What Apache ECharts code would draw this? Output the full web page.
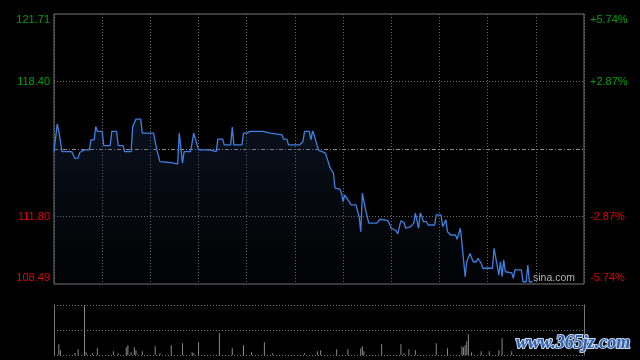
<!DOCTYPE html>
<html>
<head>
<meta charset="utf-8">
<script src="https://cdn.jsdelivr.net/npm/echarts@6/dist/echarts.min.js"></script>
<style>
html,body{margin:0;padding:0;background:#000;}
#c{width:640px;height:360px;}
</style>
</head>
<body>
<div id="c"></div>
<script>
// ---- data (HK session: 330 trading minutes) ----
const prevClose = 115.10;
const priceMin = 108.49;
const priceMax = 121.71;
const leftLabels = ['108.49', '111.80', '', '118.40', '121.71'];
const rightLabels = ['-5.74%', '-2.87%', '', '+2.87%', '+5.74%'];

const minutes = [0,2,3,4,5,11,13,15,16,19,22,23,25,26,27,30,31,35,36,39,40,43,44,48,49,51,54,55,62,64,65,66,72,77,78,79,80,81,85,87,88,90,97,98,101,102,105,106,110,111,112,117,118,120,122,130,131,135,136,142,143,145,146,153,155,156,159,160,161,162,163,164,165,167,169,170,172,173,174,175,178,179,180,181,182,183,184,185,188,189,190,191,192,193,194,195,196,201,202,203,204,208,210,211,213,214,216,218,219,220,222,224,225,226,227,228,229,230,232,233,237,238,241,242,243,244,245,247,250,251,252,253,254,256,257,258,259,260,261,263,264,265,266,267,273,274,275,277,278,279,280,281,282,285,286,287,291,292,294,295,296,298];
const prices = [114.97,116.33,115.96,115.96,114.97,114.97,114.65,114.65,114.93,115.06,115.06,115.55,115.55,116.20,115.96,115.96,115.27,115.27,115.96,115.96,115.27,115.27,114.97,114.97,116.20,116.56,116.56,115.88,115.88,115.06,114.97,114.48,114.44,114.37,115.88,115.88,114.41,114.97,114.97,115.88,115.79,115.06,115.06,114.97,114.97,115.58,115.58,115.30,115.30,116.17,115.30,115.30,115.88,115.88,115.96,115.96,115.88,115.88,115.79,115.79,115.58,115.58,115.30,115.30,115.47,115.96,115.96,115.55,115.99,115.79,115.79,115.22,115.02,114.97,114.90,114.86,114.16,114.16,113.92,113.18,113.13,112.94,112.52,112.85,112.85,112.61,112.61,112.36,112.36,112.28,111.79,111.05,112.94,112.94,112.12,112.03,111.47,111.47,111.54,111.66,111.59,111.59,111.22,111.22,111.10,110.94,111.59,111.49,111.22,111.30,111.30,111.47,111.96,111.96,111.22,111.96,111.80,111.54,111.54,111.38,111.38,111.87,111.87,111.30,111.30,111.63,111.05,110.89,110.89,110.68,110.73,111.22,110.49,108.85,109.58,109.58,109.99,109.99,109.58,109.58,109.75,109.75,109.50,109.26,109.26,110.24,110.24,108.93,109.58,108.85,109.67,109.09,109.09,109.04,108.77,109.18,109.18,108.60,108.60,109.42,108.60,108.60];

const volMinutes = [3,4,13,15,19,20,24,27,37,40,45,46,48,50,51,55,63,66,73,80,86,87,90,103,111,118,123,131,136,156,164,166,176,183,191,192,193,204,216,218,221,225,238,245,254,255,256,257,258,260,266,271,277,279,285];
const volValues = [107000,47000,20000,57000,497000,27000,17000,67000,37000,17000,77000,97000,27000,77000,47000,37000,87000,17000,97000,117000,27000,17000,127000,217000,67000,97000,27000,127000,17000,17000,37000,47000,57000,57000,67000,87000,37000,107000,107000,17000,57000,47000,117000,67000,87000,77000,97000,137000,207000,27000,37000,37000,47000,167000,37000];

const priceData = minutes.map((m, i) => [m, prices[i]]);
const volData = volMinutes.map((m, i) => [m, volValues[i]]);

const FONT = 'Liberation Sans';
const GRID_DOT = { color: '#707070', width: 1, type: [1, 2] };

function labelColor(idx) { return idx >= 3 ? '#00a000' : '#e00000'; }
function labelFmt(arr) {
  return function (v) {
    const i = Math.round(v);
    const t = arr[i];
    if (!t) return '';
    if (i === 4) return '{t|' + t + '}';
    if (i === 0) return '{b|' + t + '}';
    return t;
  };
}
const rich = {
  t: { padding: [12, 0, 0, 0], fontSize: 11, fontFamily: FONT },
  b: { padding: [0, 0, 12, 0], fontSize: 11, fontFamily: FONT }
};

const chart = echarts.init(document.getElementById('c'), null, { renderer: 'canvas' });
chart.setOption({
  backgroundColor: '#000',
  animation: false,
  grid: [
    { left: 54, right: 56, top: 14, bottom: 76, show: true, borderColor: '#777', borderWidth: 1, backgroundColor: 'transparent' },
    { left: 54, right: 56, top: 305, bottom: 5 }
  ],
  xAxis: [
    { type: 'value', gridIndex: 0, min: 0, max: 330, interval: 30,
      axisLine: { show: false }, axisTick: { show: false }, axisLabel: { show: false },
      splitLine: { show: true, lineStyle: GRID_DOT } },
    { type: 'value', gridIndex: 1, min: 0, max: 330, interval: 30,
      axisLine: { show: false }, axisTick: { show: false }, axisLabel: { show: false },
      splitLine: { show: false } }
  ],
  yAxis: [
    { type: 'value', gridIndex: 0, min: priceMin, max: priceMax, show: false, splitLine: { show: false } },
    { type: 'value', gridIndex: 0, min: 0, max: 4, interval: 1, position: 'left',
      axisLine: { show: false }, axisTick: { show: false },
      axisLabel: { formatter: labelFmt(leftLabels), color: (v) => labelColor(Math.round(v)), fontSize: 11, fontFamily: FONT, margin: 4, rich: rich },
      splitLine: { show: true, lineStyle: { color: ['rgba(0,0,0,0)', '#707070', 'rgba(0,0,0,0)', '#707070', 'rgba(0,0,0,0)'], width: 1, type: [1, 2] } } },
    { type: 'value', gridIndex: 0, min: 0, max: 4, interval: 1, position: 'right',
      axisLine: { show: false }, axisTick: { show: false },
      axisLabel: { formatter: labelFmt(rightLabels), color: (v) => labelColor(Math.round(v)), fontSize: 11, fontFamily: FONT, margin: 6, rich: rich },
      splitLine: { show: false } },
    { type: 'value', gridIndex: 0, min: 0, max: 2, interval: 1, show: true, position: 'left', offset: 200,
      axisLine: { show: false }, axisTick: { show: false }, axisLabel: { show: false },
      splitLine: { show: true, lineStyle: { color: ['rgba(0,0,0,0)', '#8c8c8c', 'rgba(0,0,0,0)'], width: 1, type: [4, 2, 1, 2] } } },
    { type: 'value', gridIndex: 1, min: 0, max: 500000, interval: 250000, position: 'left',
      axisLine: { show: true, lineStyle: { color: '#777', width: 1 } }, axisTick: { show: false }, axisLabel: { show: false },
      splitLine: { show: true, lineStyle: { color: '#777', width: 1, type: [1, 2] } } },
    { type: 'value', gridIndex: 1, min: 0, max: 500000, interval: 250000, position: 'right',
      axisLine: { show: true, lineStyle: { color: '#777', width: 1 } }, axisTick: { show: false }, axisLabel: { show: false },
      splitLine: { show: false } }
  ],
  series: [
    { type: 'line', xAxisIndex: 0, yAxisIndex: 0, data: priceData, showSymbol: false, symbol: 'none',
      lineStyle: { color: '#3f7fe0', width: 1.3 },
      areaStyle: { origin: 'start', color: new echarts.graphic.LinearGradient(0, 0, 0, 1, [
        { offset: 0, color: 'rgba(40,70,120,0.38)' },
        { offset: 1, color: 'rgba(20,30,50,0.12)' }
      ]) }, z: 3 },
    { type: 'bar', xAxisIndex: 1, yAxisIndex: 4, data: volData, barWidth: 1,
      itemStyle: { color: '#8a8a8a' } }
  ],
  graphic: [
    { type: 'text', left: 533, top: 273, z: 100,
      style: { text: 'sina.com', fill: '#b4b4b4', font: '10.5px "Liberation Sans"' } },
    { type: 'text', left: 515, top: 333, z: 100,
      style: { text: 'www.365jz.com', fill: '#2d5fae', stroke: '#c9d9ef', lineWidth: 2,
        font: 'italic bold 18px "Liberation Serif"' } }
  ]
});
</script>
</body>
</html>
